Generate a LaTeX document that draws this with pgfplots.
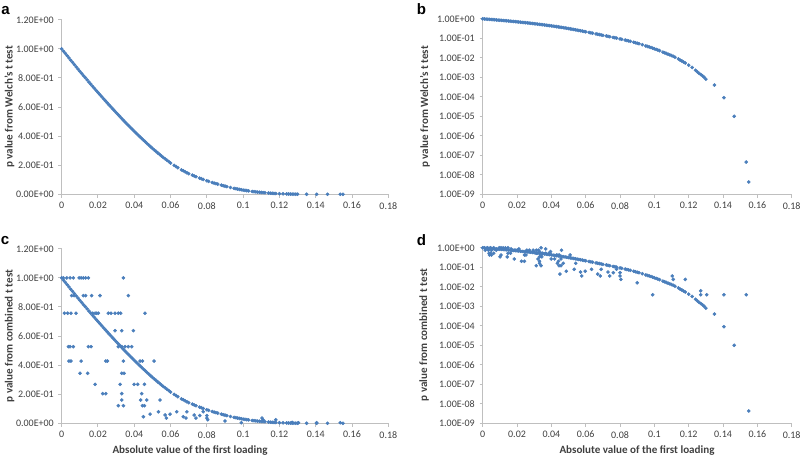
\documentclass[border=0pt]{standalone}
\usepackage{pgfplots}
\pgfplotsset{compat=1.18}
\usepackage{pgfplotstable}
\usepackage{fontspec}
\setmainfont{Carlito}
\newfontfamily\letterfont{Liberation Sans}
\definecolor{ptblue}{RGB}{74,126,187}
\definecolor{axgray}{RGB}{191,191,191}
\definecolor{lblgray}{RGB}{64,64,64}

\pgfplotstableread{
x p
0 1
0.001 0.984
0.002 0.969
0.003 0.953
0.004 0.938
0.005 0.922
0.006 0.907
0.007 0.892
0.008 0.876
0.009 0.861
0.010 0.846
0.011 0.831
0.012 0.816
0.013 0.802
0.014 0.787
0.015 0.772
0.016 0.758
0.017 0.743
0.018 0.729
0.019 0.714
0.020 0.700
0.021 0.686
0.022 0.672
0.023 0.658
0.024 0.644
0.025 0.630
0.026 0.616
0.027 0.603
0.028 0.589
0.029 0.576
0.030 0.562
0.031 0.549
0.032 0.536
0.033 0.522
0.034 0.509
0.035 0.496
0.036 0.483
0.037 0.471
0.038 0.458
0.039 0.446
0.040 0.433
0.041 0.421
0.042 0.409
0.043 0.397
0.044 0.385
0.045 0.373
0.046 0.362
0.047 0.350
0.048 0.339
0.049 0.327
0.050 0.316
0.051 0.305
0.052 0.295
0.053 0.284
0.054 0.274
0.055 0.263
0.056 0.253
0.057 0.244
0.058 0.234
0.059 0.225
0.060 0.215
0.062 0.199
0.063 0.191
0.064 0.183
0.066 0.168
0.067 0.162
0.068 0.155
0.069 0.148
0.070 0.142
0.072 0.132
0.073 0.126
0.074 0.121
0.076 0.111
0.077 0.107
0.078 0.102
0.080 0.093
0.081 0.089
0.083 0.081
0.084 0.077
0.085 0.0733
0.086 0.0699
0.088 0.0629
0.089 0.0594
0.090 0.056
0.091 0.0529
0.093 0.0469
0.095 0.0407
0.096 0.0384
0.097 0.036
0.098 0.0337
0.099 0.0313
0.100 0.029
0.101 0.0271
0.102 0.0252
0.103 0.0233
0.105 0.0195
0.106 0.018
0.107 0.0166
0.108 0.0153
0.109 0.0141
0.110 0.013
0.111 0.0119
0.112 0.0108
0.114 0.0088
0.115 0.0076
0.116 0.0069
0.117 0.0061
0.118 0.0054
0.120 0.0042
0.122 0.0032
0.124 0.0023
0.125 0.0019
0.126 0.0016
0.127 0.0014
0.128 0.0012
0.129 0.001
0.130 0.0008
0.135 0.0004
0.1405 0.00009
0.1465 0.00001
0.1535 4.5e-8
0.155 4.3e-9
}\welch

\pgfplotstableread{
x p
0 1
0.001 0.984
0.002 0.969
0.003 0.953
0.004 0.938
0.005 0.922
0.006 0.907
0.007 0.892
0.008 0.876
0.009 0.861
0.010 0.846
0.011 0.831
0.012 0.816
0.013 0.802
0.014 0.787
0.015 0.772
0.016 0.758
0.017 0.743
0.018 0.729
0.019 0.714
0.020 0.700
0.021 0.686
0.022 0.672
0.023 0.658
0.024 0.644
0.025 0.630
0.026 0.616
0.027 0.603
0.028 0.589
0.029 0.576
0.030 0.562
0.031 0.549
0.032 0.536
0.033 0.522
0.034 0.509
0.035 0.496
0.036 0.483
0.037 0.471
0.038 0.458
0.039 0.446
0.040 0.433
0.041 0.421
0.042 0.409
0.043 0.397
0.044 0.385
0.045 0.373
0.046 0.362
0.047 0.350
0.048 0.339
0.049 0.327
0.050 0.316
0.051 0.305
0.052 0.295
0.053 0.284
0.054 0.274
0.055 0.263
0.056 0.253
0.057 0.244
0.058 0.234
0.059 0.225
0.060 0.215
0.062 0.199
0.063 0.191
0.064 0.183
0.066 0.168
0.067 0.162
0.068 0.155
0.069 0.148
0.070 0.142
0.072 0.132
0.073 0.126
0.074 0.121
0.076 0.111
0.077 0.107
0.078 0.102
0.080 0.093
0.081 0.089
0.083 0.081
0.084 0.077
0.085 0.0733
0.086 0.0699
0.088 0.0629
0.089 0.0594
0.090 0.056
0.091 0.0529
0.093 0.0469
0.095 0.0407
0.096 0.0384
0.097 0.036
0.098 0.0337
0.099 0.0313
0.100 0.029
0.101 0.0271
0.102 0.0252
0.103 0.0233
0.105 0.0195
0.106 0.018
0.107 0.0166
0.108 0.0153
0.109 0.0141
0.110 0.013
0.111 0.0119
0.112 0.0108
0.114 0.0088
0.115 0.0076
0.116 0.0069
0.117 0.0061
0.118 0.0054
0.120 0.0042
0.122 0.0032
0.124 0.0023
0.125 0.0019
0.126 0.0016
0.127 0.0014
0.128 0.0012
0.129 0.001
0.130 0.0008
0.135 0.0004
0.1405 0.00009
0.1465 0.00001
0.155 4.3e-9
0.0009 1.0
0.0028 1.0
0.0046 1.0
0.0064 1.0
0.0096 1.0
0.0107 1.0
0.0119 1.0
0.0132 1.0
0.0147 1.0
0.0340 1.0
0.0055 0.878
0.0068 0.878
0.0119 0.878
0.0132 0.878
0.0165 0.878
0.0211 0.878
0.0367 0.878
0.0015 0.757
0.0033 0.757
0.0051 0.757
0.0079 0.757
0.0171 0.757
0.0184 0.757
0.0193 0.757
0.0202 0.757
0.0257 0.757
0.0272 0.757
0.0294 0.757
0.0312 0.757
0.0325 0.757
0.0459 0.757
0.0294 0.637
0.0331 0.637
0.0395 0.637
0.0037 0.527
0.0046 0.527
0.0064 0.527
0.0147 0.527
0.0162 0.527
0.0312 0.527
0.0331 0.527
0.0349 0.527
0.0367 0.527
0.0386 0.527
0.0040 0.428
0.0051 0.428
0.0107 0.428
0.0243 0.428
0.0252 0.428
0.0340 0.428
0.0432 0.428
0.0445 0.428
0.0509 0.428
0.0101 0.344
0.0143 0.344
0.0331 0.344
0.0344 0.344
0.0184 0.268
0.0322 0.268
0.0399 0.268
0.0419 0.268
0.0456 0.268
0.0226 0.204
0.0243 0.204
0.0331 0.204
0.0441 0.204
0.0331 0.16
0.0435 0.16
0.0469 0.16
0.0542 0.16
0.0312 0.121
0.0340 0.121
0.0445 0.121
0.0456 0.121
0.0450 0.045
0.0487 0.063
0.0533 0.079
0.0570 0.057
0.0577 0.036
0.0597 0.063
0.0634 0.079
0.0670 0.045
0.0685 0.036
0.0690 0.079
0.0730 0.057
0.0740 0.036
0.0761 0.053
0.0780 0.08
0.0800 0.053
0.0800 0.036
0.0805 0.024
0.0900 0.016
0.0990 0.0039
0.1104 0.036
0.1110 0.024
0.1180 0.024
0.1270 0.0062
0.1270 0.0039
0.1305 0.0039
0.1405 0.0039
0.1535 0.0039
}\combined

\pgfplotsset{
  panel/.style={
    scale only axis,
    anchor=south west,
    axis lines*=left,
    axis line style={draw=axgray, line width=0.75pt},
    every tick/.style={draw=axgray, line width=0.75pt},
    tick align=outside,
    major tick length=2.4pt,
    xmin=0, xmax=0.18,
    xtick={0,0.02,0.04,0.06,0.08,0.1,0.12,0.14,0.16,0.18},
    xticklabels={0,0.02,0.04,0.06,0.08,0.1,0.12,0.14,0.16,0.18},
    tick label style={font=\fontsize{7.5}{9}\selectfont, text=lblgray},
    clip=false,
  },
  linpanel/.style={panel, width=244.95pt, height=130.875pt,
    ymin=0, ymax=1.2,
    ytick={0,0.2,0.4,0.6,0.8,1.0,1.2},
    yticklabels={0.00E+00,2.00E-01,4.00E-01,6.00E-01,8.00E-01,1.00E+00,1.20E+00}},
  logpanel/.style={panel, width=231.75pt, height=131.625pt,
    ymin=1e-9, ymax=1,
    ytick={1e-9,1e-8,1e-7,1e-6,1e-5,1e-4,1e-3,1e-2,1e-1,1},
    yticklabels={1.00E-09,1.00E-08,1.00E-07,1.00E-06,1.00E-05,1.00E-04,1.00E-03,1.00E-02,1.00E-01,1.00E+00}},
  pts/.style={only marks, mark=*, mark size=1.15pt, color=ptblue,
    mark options={draw=none, fill=ptblue}},
}

\begin{document}
\begin{tikzpicture}
\path[use as bounding box] (0,0) rectangle (600pt,343.5pt);

\begin{axis}[linpanel, at={(46.275pt,197.775pt)}]
  \addplot[pts] table[x=x, y=p] {\welch};
\end{axis}

\begin{semilogyaxis}[logpanel, yminorticks=false, at={(362.025pt,197.775pt)}]
  \addplot[pts] table[x=x, y=p] {\welch};
\end{semilogyaxis}

\begin{axis}[linpanel, at={(46.275pt,26.025pt)}]
  \addplot[pts] table[x=x, y=p] {\combined};
\end{axis}

\begin{semilogyaxis}[logpanel, yminorticks=false, at={(362.025pt,26.025pt)}]
  \addplot[pts] table[x=x, y=p] {\combined};
\end{semilogyaxis}

\tikzset{lbl/.style={font=\bfseries\fontsize{8.3}{10}\selectfont, text=lblgray, inner sep=0pt}}
\node[lbl, rotate=90] at (7.125pt,263.25pt) {p value from Welch's t test};
\node[lbl, rotate=90] at (318.75pt,263.25pt) {p value from Welch's t test};
\node[lbl, rotate=90] at (7.125pt,91.5pt) {p value from combined t test};
\node[lbl, rotate=90] at (318pt,92.25pt) {p value from combined t test};
\node[lbl, anchor=base] at (142.5pt,3.75pt) {Absolute value of the first loading};
\node[lbl, anchor=base] at (477.75pt,3.75pt) {Absolute value of the first loading};

\tikzset{letr/.style={font=\letterfont\bfseries\fontsize{11.3}{13}\selectfont, inner sep=0pt, anchor=base west}}
\node[letr] at (0.75pt,332.25pt) {a};
\node[letr] at (312.5pt,332.25pt) {b};
\node[letr] at (0.4pt,160.5pt) {c};
\node[letr] at (312.5pt,159.75pt) {d};
\end{tikzpicture}
\end{document}
